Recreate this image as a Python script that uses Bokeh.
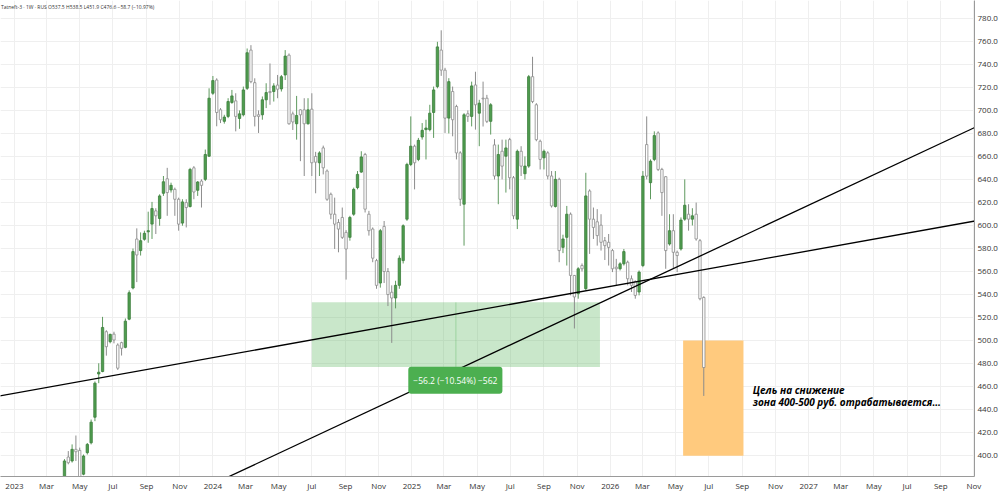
import pandas as pd
from bokeh.plotting import figure
from bokeh.models import Range1d, FixedTicker, Label, ColumnDataSource
from bokeh.core.properties import value
from bokeh.embed import file_html
from bokeh.resources import INLINE

# ---------------- data ----------------
week_start = "2023-04-03"
opens = [381.6, 398.8, 395.4, 405.5, 404.6, 383.9, 402.6, 411.2, 433.4, 471.0,
         473.1, 507.7, 499.0, 505.6, 496.1, 498.2, 494.1, 518.6, 545.7, 588.2,
         578.2, 588.0, 594.5, 601.2, 612.7, 606.1, 628.0, 640.6, 630.9, 631.4,
         622.8, 602.1, 619.9, 616.5, 650.1, 630.6, 638.6, 640.1, 660.2, 714.9,
         726.4, 700.5, 690.5, 694.8, 706.9, 708.3, 693.0, 696.2, 719.2, 752.4,
         724.1, 696.2, 696.2, 709.2, 716.4, 716.4, 722.0, 718.7, 730.8, 748.0,
         697.0, 688.4, 700.5, 700.5, 688.4, 701.1, 660.0, 654.5, 667.4, 647.3,
         627.1, 609.8, 602.6, 607.0, 594.0, 589.7, 609.8, 632.9, 646.4, 661.7,
         609.8, 596.9, 569.5, 550.0, 599.2, 560.0, 542.0, 537.0, 548.0, 569.5,
         605.5, 653.0, 668.9, 657.4, 676.9, 683.3, 683.3, 698.2, 720.7, 752.4,
         735.0, 693.3, 716.4, 703.4, 663.1, 618.5, 697.1, 694.8, 722.1, 697.6,
         710.6, 710.6, 690.5, 670.0, 643.0, 664.5, 660.2, 674.6, 641.5, 605.5,
         664.5, 645.0, 651.6, 729.3, 704.9, 673.2, 658.8, 663.1, 643.0, 616.5,
         640.1, 581.0, 589.7, 609.8, 556.6, 540.8, 565.2, 545.1, 630.0, 605.5,
         603.2, 600.3, 586.8, 585.4, 578.2, 563.8, 562.4, 566.7, 568.1, 553.7,
         551.4, 542.2, 565.2, 670.3, 637.2, 657.4, 680.4, 648.7, 642.4, 583.9,
         595.5, 576.7, 579.6, 605.5, 609.8, 605.5, 609.8, 586.8, 537.5]
highs = [397.0, 404.0, 409.8, 417.5, 407.0, 401.0, 411.0, 431.4, 464.5, 480.3,
         520.6, 509.0, 506.0, 507.7, 497.6, 499.0, 519.2, 543.6, 580.0, 597.5,
         594.0, 595.5, 612.0, 620.5, 615.0, 627.1, 643.0, 650.1, 637.2, 632.9,
         624.2, 622.8, 622.8, 650.1, 651.6, 638.6, 640.1, 666.0, 719.2, 729.9,
         727.9, 702.0, 696.2, 710.6, 717.8, 714.9, 700.0, 720.7, 753.8, 756.7,
         727.9, 700.0, 712.1, 723.6, 740.8, 723.6, 730.8, 730.8, 752.4, 749.5,
         699.0, 712.6, 701.0, 710.6, 710.6, 714.9, 664.0, 664.5, 669.4, 648.7,
         628.6, 624.2, 605.5, 615.6, 596.0, 608.4, 632.9, 647.3, 664.5, 663.1,
         612.7, 598.3, 571.0, 597.0, 603.9, 563.0, 548.0, 552.0, 574.0, 601.0,
         654.5, 694.8, 670.3, 676.1, 689.0, 691.9, 704.9, 720.7, 759.6, 769.6,
         737.0, 728.0, 720.7, 704.9, 664.5, 697.6, 700.0, 725.0, 733.6, 709.2,
         725.0, 713.5, 706.3, 675.0, 670.3, 674.6, 674.6, 676.1, 643.0, 666.0,
         668.9, 660.0, 730.8, 746.6, 706.3, 674.6, 666.0, 664.5, 647.3, 647.3,
         641.5, 592.0, 617.0, 611.3, 557.0, 563.8, 567.0, 645.8, 631.4, 615.6,
         614.2, 609.8, 590.0, 592.6, 579.6, 571.0, 568.1, 579.6, 569.5, 556.6,
         552.3, 560.9, 647.3, 694.8, 657.4, 681.8, 681.8, 650.1, 642.9, 609.8,
         609.8, 578.2, 607.0, 640.1, 618.5, 615.0, 619.9, 588.3, 538.5]
lows = [380.0, 392.5, 394.0, 395.4, 380.0, 383.0, 401.0, 409.8, 430.0, 463.0,
        472.5, 486.9, 497.6, 497.6, 474.5, 487.0, 493.3, 517.7, 544.5, 550.8,
        573.9, 586.8, 585.0, 588.3, 592.6, 599.8, 625.7, 608.4, 628.6, 608.4,
        595.5, 599.8, 598.3, 615.6, 622.8, 625.7, 615.6, 638.6, 659.6, 713.5,
        686.2, 689.0, 688.5, 693.3, 705.7, 681.8, 684.0, 694.8, 717.8, 723.6,
        686.1, 680.4, 691.9, 702.0, 704.9, 707.7, 710.6, 716.4, 726.4, 687.6,
        683.0, 674.6, 655.9, 643.0, 687.6, 643.0, 628.0, 643.0, 644.4, 621.4,
        605.5, 579.6, 576.7, 588.3, 553.0, 586.8, 608.4, 631.4, 645.8, 611.3,
        591.2, 568.1, 545.0, 546.0, 550.0, 530.0, 498.0, 528.0, 545.0, 567.0,
        604.0, 651.6, 631.4, 655.9, 674.6, 657.4, 681.8, 676.1, 719.2, 730.0,
        680.4, 680.0, 677.5, 657.4, 617.0, 582.5, 690.0, 686.1, 683.3, 668.9,
        686.0, 689.0, 679.0, 640.0, 618.5, 640.0, 628.6, 631.4, 605.5, 596.9,
        643.0, 640.0, 650.1, 706.3, 673.2, 648.7, 648.7, 640.1, 615.6, 615.6,
        568.1, 576.0, 565.2, 539.3, 510.5, 536.4, 560.0, 543.6, 575.3, 588.3,
        582.5, 578.2, 570.0, 565.2, 559.5, 548.0, 560.9, 565.2, 548.0, 542.2,
        536.4, 539.3, 563.8, 640.1, 622.8, 655.9, 647.3, 608.4, 562.4, 582.5,
        562.4, 559.5, 578.2, 604.1, 595.5, 600.0, 586.8, 535.0, 451.9]
closes = [395.4, 393.9, 405.5, 403.4, 381.6, 399.7, 409.8, 429.1, 463.0, 472.5,
          511.4, 494.7, 505.4, 500.5, 476.0, 493.3, 516.9, 541.6, 577.3, 574.4,
          586.8, 593.2, 595.5, 614.7, 608.4, 625.7, 638.0, 628.6, 634.9, 622.8,
          601.2, 620.5, 615.6, 648.7, 629.1, 637.8, 634.9, 661.7, 710.6, 725.9,
          698.2, 691.9, 694.2, 707.7, 712.6, 694.8, 697.0, 717.8, 750.1, 725.0,
          694.8, 694.8, 709.2, 715.5, 715.5, 721.3, 718.4, 729.3, 747.2, 688.4,
          690.0, 695.6, 696.2, 688.4, 700.5, 654.5, 655.0, 663.1, 650.1, 622.8,
          609.8, 601.2, 596.9, 589.7, 579.6, 607.0, 631.4, 644.4, 659.6, 614.2,
          595.5, 571.6, 548.0, 595.5, 560.0, 540.0, 537.0, 548.0, 571.6, 599.8,
          653.0, 668.9, 654.5, 674.0, 682.7, 684.7, 697.6, 717.8, 755.2, 735.0,
          693.3, 725.0, 691.9, 663.1, 622.8, 696.2, 694.8, 721.3, 704.9, 706.3,
          710.0, 690.5, 704.9, 643.0, 661.7, 651.6, 667.4, 641.5, 608.4, 664.5,
          651.6, 651.6, 729.3, 707.7, 674.6, 657.4, 664.5, 643.0, 617.0, 640.1,
          578.2, 588.3, 609.8, 556.6, 537.9, 562.4, 562.4, 625.7, 605.5, 598.3,
          591.2, 585.4, 582.5, 581.0, 562.4, 562.4, 566.7, 577.3, 553.7, 548.0,
          539.3, 559.5, 642.9, 642.9, 655.9, 678.1, 648.7, 628.6, 578.2, 595.5,
          576.7, 573.9, 604.7, 617.6, 605.5, 608.4, 588.3, 536.4, 476.6]

tick_years = [2023, 2024, 2025, 2026, 2027]
tick_month_names = ["Mar", "May", "Jul", "Sep", "Nov"]
tick_month_numbers = [3, 5, 7, 9, 11]
y_ticks = [400, 420, 440, 460, 480, 500, 520, 540, 560, 580, 600,
           620, 640, 660, 680, 700, 720, 740, 760, 780]
y_labels = ["400.0", "420.0", "440.0", "460.0", "480.0", "500.0", "520.0",
            "540.0", "560.0", "580.0", "600.0", "620.0", "640.0", "660.0",
            "680.0", "700.0", "720.0", "740.0", "760.0", "780.0"]

trend_a_dates = ["2022-11-01", "2028-01-01"]
trend_a_prices = [449.1, 608.9]
trend_b_dates = ["2024-01-01", "2028-01-01"]
trend_b_prices = [375.3, 698.3]

range_box_dates = ["2024-07-01", "2025-12-13"]
range_box_prices = [533.2, 477.0]
range_label = "\u221256.2 (\u221210.54%) \u2212562"
target_box_dates = ["2026-05-15", "2026-09-03"]
target_box_prices = [500.0, 400.0]
target_lines = ["Цель на снижение", "зона 400-500 руб. отрабатывается..."]
header = "Tatneft-3 · 1W · RUS  O537.5  H538.5  L451.9  C476.6  \u221258.7 (\u221210.97%)"

# ---------------- helpers ----------------
def ms(d):
    return pd.Timestamp(d).value // 10**6

DAY = 86400000
dates = pd.date_range(week_start, periods=len(opens), freq="7D")
df = pd.DataFrame(dict(date=dates, open=opens, high=highs, low=lows, close=closes))
df["top"] = df[["open", "close"]].max(axis=1)
df["bottom"] = df[["open", "close"]].min(axis=1)
up = ColumnDataSource(df[df.close >= df.open])
dn = ColumnDataSource(df[df.close < df.open])

x_start = pd.Timestamp("2022-12-06 07:00")
x_end = pd.Timestamp("2027-11-02")
y_start, y_end = 381.9, 795.5

p = figure(width=1000, height=493, x_axis_type="datetime", y_axis_location="right",
           output_backend="svg", toolbar_location=None,
           x_range=Range1d(ms(x_start), ms(x_end)), y_range=Range1d(y_start, y_end),
           min_border_left=0, min_border_top=0, min_border_right=0, min_border_bottom=0)
p.outline_line_color = None
p.background_fill_color = "white"
p.border_fill_color = "white"

# ticks
x_ticks, x_labels = [], []
for yr in tick_years:
    x_ticks.append(ms(f"{yr}-01-01")); x_labels.append(str(yr))
    for mname, mnum in zip(tick_month_names, tick_month_numbers):
        x_ticks.append(ms(f"{yr}-{mnum:02d}-01")); x_labels.append(mname)
p.xaxis.ticker = FixedTicker(ticks=x_ticks)
p.xaxis.major_label_overrides = {float(t): l for t, l in zip(x_ticks, x_labels)}
p.yaxis.ticker = FixedTicker(ticks=y_ticks)
p.yaxis.major_label_overrides = {float(t): l for t, l in zip(y_ticks, y_labels)}
for ax in (p.xaxis[0], p.yaxis[0]):
    ax.major_tick_out = 0
    ax.major_tick_in = 0
    ax.minor_tick_out = 0
    ax.minor_tick_in = 0
    ax.axis_line_color = "#9a9a9a"
    ax.major_label_text_font = "Open Sans"
    ax.major_label_text_font_size = "8px"
    ax.major_label_text_color = "#333333"
    ax.major_label_standoff = 3
p.xgrid.grid_line_color = "#efefef"
p.ygrid.grid_line_color = "#efefef"

# boxes
p.quad(left=[ms(range_box_dates[0])], right=[ms(range_box_dates[1])],
       top=[range_box_prices[0]], bottom=[range_box_prices[1]],
       fill_color="#4caf50", fill_alpha=0.3, line_color=None)
mid = (ms(range_box_dates[0]) + ms(range_box_dates[1])) / 2
p.segment(x0=[mid], x1=[mid], y0=[range_box_prices[0]], y1=[range_box_prices[1]],
          line_color="#4caf50", line_alpha=0.35, line_width=1)
p.quad(left=[ms(target_box_dates[0])], right=[ms(target_box_dates[1])],
       top=[target_box_prices[0]], bottom=[target_box_prices[1]],
       fill_color="#ffca7e", fill_alpha=1.0, line_color=None)

# candles
bw = 7 * DAY * 0.62
p.segment(x0="date", x1="date", y0="low", y1="high", source=up, line_color="#5f9a5f", line_width=1)
p.segment(x0="date", x1="date", y0="low", y1="high", source=dn, line_color="#8c8c8c", line_width=1)
p.vbar(x="date", width=bw, top="top", bottom="bottom", source=up,
       fill_color="#4f9d4f", line_color="#3c7d3c", line_width=0.8)
p.vbar(x="date", width=bw, top="top", bottom="bottom", source=dn,
       fill_color="white", line_color="#8c8c8c", line_width=0.8)

# trend lines
p.line(x=[ms(d) for d in trend_a_dates], y=trend_a_prices, line_color="black", line_width=1.3)
p.line(x=[ms(d) for d in trend_b_dates], y=trend_b_prices, line_color="black", line_width=1.3)

# measurement label
p.add_layout(Label(x=ms("2025-03-22"), y=465.6, text=range_label,
                   text_align="center", text_baseline="middle",
                   text_font="Open Sans", text_font_size="8.5px", text_color="white",
                   background_fill_color="#4caf50", border_radius=3, padding=(5, 8)))

# target annotation
p.text(x=[ms("2026-09-20")] * 2, y=[457.0, 446.6], text=target_lines,
       text_font=value("Open Sans"), text_font_size="10px",
       text_font_style="bold italic", text_color="black",
       text_baseline="middle", text_align="left")

# header
p.text(x=[ms("2022-12-07")], y=[789.5], text=[header],
       text_font=value("Open Sans"), text_font_size="5px", text_color="#333333",
       text_baseline="middle", text_align="left")

open("out.html", "w").write(file_html(p, INLINE))
